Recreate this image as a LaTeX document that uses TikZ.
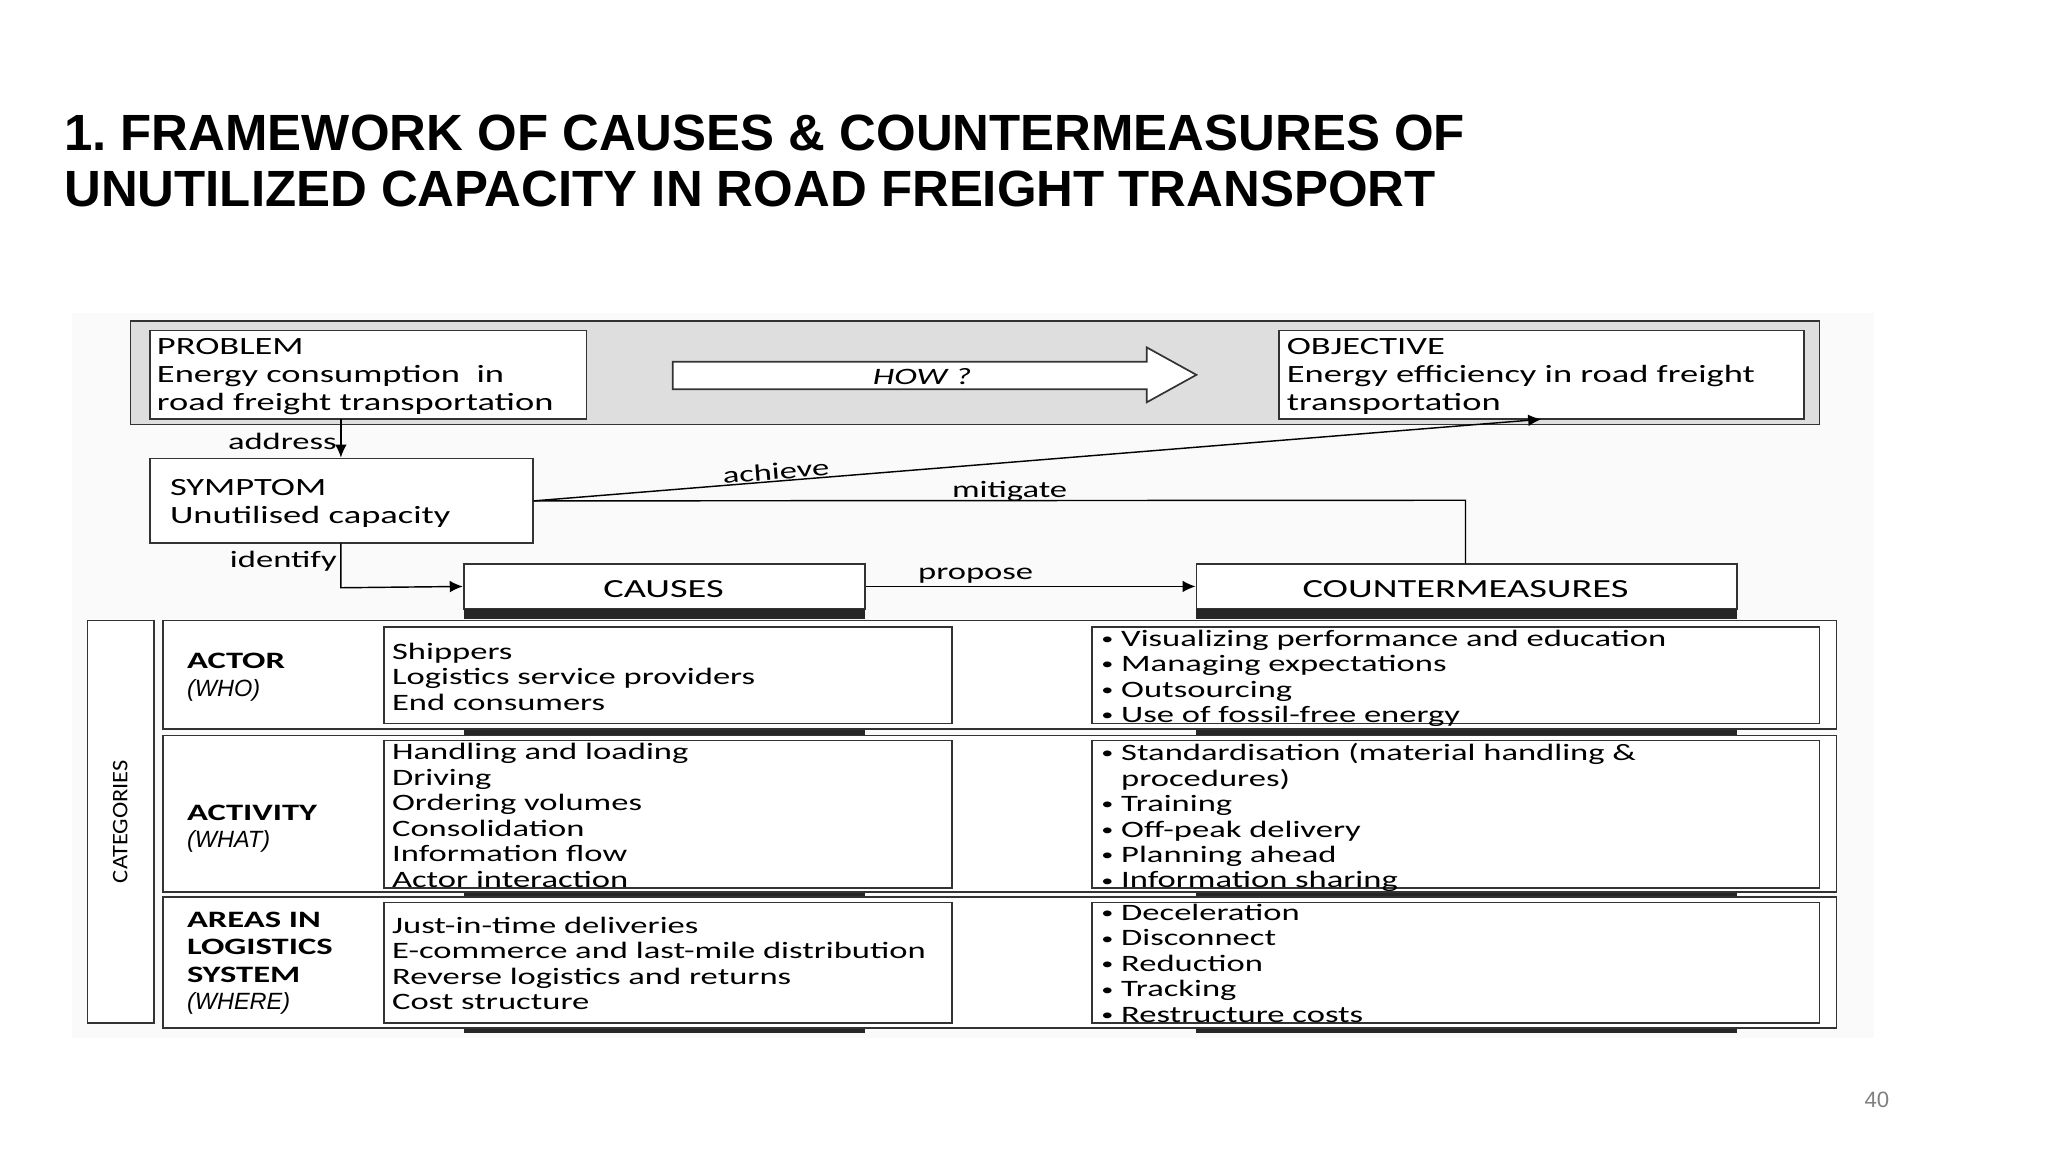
\documentclass[tikz,border=0pt]{standalone}
\usepackage{fontspec}
\setmainfont{Liberation Sans}
\newfontfamily\calf[FakeStretch=1.47]{Carlito}
\newcommand\bul{\raisebox{0.15ex}{\scalebox{0.7}{•}}}
\usetikzlibrary{arrows.meta}
\begin{document}
\begin{tikzpicture}[x=1pt,y=-1pt,
  box/.style={draw=black!80,line width=1.3pt,fill=white,inner sep=0},
  txt/.style={anchor=north west,inner sep=0,align=left,font=\calf\fontsize{19}{21.5}\selectfont},
  rtxt/.style={anchor=north west,inner sep=0,align=left,font=\calf\fontsize{18}{19.5}\selectfont},
  lbl/.style={inner sep=1pt,font=\calf\fontsize{18}{20}\selectfont},
  arr/.style={line width=1.1pt,-{Latex[length=10pt,width=9pt]}},
  bar/.style={fill=black!85,draw=none}]
\useasboundingbox (0,0) rectangle (1568,882);
\fill[white] (0,0) rectangle (1568,882);
\node[anchor=north west,inner sep=0,align=left,font=\frenchspacing\bfseries\fontsize{39}{43}\selectfont] (title) at (49,88)
 {1. FRAMEWORK OF CAUSES \& COUNTERMEASURES OF\\UNUTILIZED CAPACITY IN ROAD FREIGHT TRANSPORT};
\fill[black!2] (55,240) rectangle (1435,795);
% top band
\node[box,fill=black!13,minimum width=1293,minimum height=79] (band) at (746.5,285.5) {};
\node[box,minimum width=334,minimum height=68] (prob) at (282,287) {};
\node[txt] (probt) at (120,259) {PROBLEM\\Energy consumption\ \ in\\road freight transportation};
\node[box,minimum width=402,minimum height=68] (obj) at (1180,287) {};
\node[txt] (objt) at (985,259) {OBJECTIVE\\Energy efficiency in road freight\\transportation};
\coordinate (how) at (715,287);
\draw[draw=black!80,line width=1.3pt,fill=white] (515,277) -- (878,277) -- (878,266) -- (916,287) -- (878,308) -- (878,298) -- (515,298) -- cycle;
\node[font=\calf\itshape\fontsize{18}{20}\selectfont] (howt) at (706,288) {HOW ?};
% symptom
\node[box,minimum width=293,minimum height=65] (sym) at (261.5,383.5) {};
\node[txt] (symt) at (130,367) {SYMPTOM\\Unutilised capacity};
% causes, countermeasures headers
\node[box,minimum width=307,minimum height=34] (cau) at (508.5,449) {};
\node[font=\calf\fontsize{20}{24}\selectfont] (caut) at (508,451) {CAUSES};
\node[box,minimum width=414,minimum height=34] (cm) at (1123,449) {};
\node[font=\calf\fontsize{20}{24}\selectfont] (cmt) at (1122,451) {COUNTERMEASURES};
\foreach \y in {466,555,680,783}{
  \fill[bar] (355,\y) rectangle (662,\y+8);
  \fill[bar] (916,\y) rectangle (1330,\y+8);
}
% connectors
\draw[arr] (261,321) -- (sym.north -| 261,0);
\node[lbl,anchor=east] (addr) at (259,338) {address};
\coordinate (idc) at (261,450);
\draw[arr] (261,416) -- (idc) -- (cau.west);
\node[lbl,anchor=east] (idt) at (259,430) {identify};
\coordinate (achv) at (1180,321);
\draw[arr] (sym.east) -- (achv);
\node[lbl,rotate=4.6] (acht) at (594,361) {achieve};
\coordinate (mitc) at (1122,383);
\draw[line width=1.1pt] (sym.east) -- (mitc) -- (cm.north -| mitc);
\node[lbl] (mitt) at (773,376) {mitigate};
\draw[arr] (cau.east) -- (cm.west);
\node[lbl] (prt) at (747,441) {propose};
% categories
\node[box,minimum width=51,minimum height=308] (cat) at (92.5,629) {};
\node[rotate=90,font=\calf\fontsize{17}{19}\selectfont,xscale=0.75] (catt) at (92,629) {CATEGORIES};
% rows
\node[box,minimum width=1281,minimum height=83] (r1) at (765.5,516.5) {};
\node[box,minimum width=1281,minimum height=120] (r2) at (765.5,623) {};
\node[box,minimum width=1281,minimum height=100] (r3) at (765.5,737) {};
\node[box,minimum width=435,minimum height=74] (c1) at (511.5,517) {};
\node[box,minimum width=557,minimum height=74] (m1) at (1114.5,517) {};
\node[box,minimum width=435,minimum height=113] (c2) at (511.5,623.5) {};
\node[box,minimum width=557,minimum height=113] (m2) at (1114.5,623.5) {};
\node[box,minimum width=435,minimum height=92] (c3) at (511.5,737) {};
\node[box,minimum width=557,minimum height=92] (m3) at (1114.5,737) {};
\node[rtxt,font=\calf\bfseries\fontsize{18}{21}\selectfont] (a1) at (143,500) {ACTOR\\\normalfont\itshape (WHO)};
\node[rtxt,font=\calf\bfseries\fontsize{18}{21}\selectfont] (a2) at (143,616) {ACTIVITY\\\normalfont\itshape (WHAT)};
\node[rtxt,font=\calf\bfseries\fontsize{18}{21}\selectfont] (a3) at (143,698) {AREAS IN\\LOGISTICS\\SYSTEM\\\normalfont\itshape (WHERE)};
\node[rtxt] (c1t) at (300,492) {Shippers\\Logistics service providers\\End consumers};
\node[rtxt] (c2t) at (300,569) {Handling and loading\\Driving\\Ordering volumes\\Consolidation\\Information flow\\Actor interaction};
\node[rtxt] (c3t) at (300,702) {Just-in-time deliveries\\E-commerce and last-mile distribution\\Reverse logistics and returns\\Cost structure};
\node[rtxt] (m1t) at (843,482) {\bul\ Visualizing performance and education\\\bul\ Managing expectations\\\bul\ Outsourcing\\\bul\ Use of fossil-free energy};
\node[rtxt] (m2t) at (843,569) {\bul\ Standardisation (material handling \&\\\phantom{\bul\ }procedures)\\\bul\ Training\\\bul\ Off-peak delivery\\\bul\ Planning ahead\\\bul\ Information sharing};
\node[rtxt] (m3t) at (843,692) {\bul\ Deceleration\\\bul\ Disconnect\\\bul\ Reduction\\\bul\ Tracking\\\bul\ Restructure costs};
\node[text=black!50,font=\fontsize{17}{20}\selectfont] (pg) at (1437,842) {40};
\end{tikzpicture}
\end{document}
